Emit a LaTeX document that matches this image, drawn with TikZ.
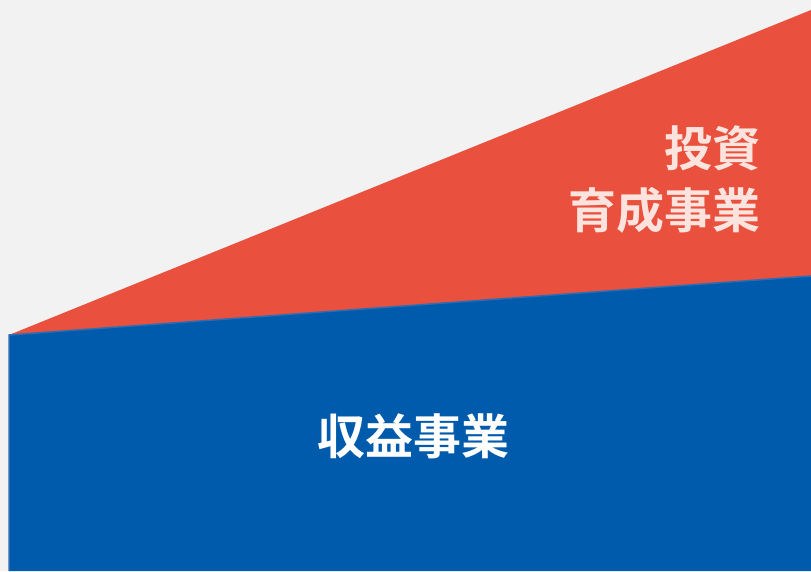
\documentclass[tikz,border=0pt]{standalone}
\usepackage{fontspec}
\newfontfamily\cjk{Noto Sans CJK JP Bold}
\definecolor{bg}{HTML}{F2F2F2}
\definecolor{redc}{HTML}{E9503D}
\definecolor{bluec}{HTML}{005BAC}
\definecolor{blueedge}{HTML}{2F6DB3}
\definecolor{pinktxt}{HTML}{FCE3DE}
\begin{document}
\begin{tikzpicture}[x=1pt,y=-1pt,
  lbl/.style={font=\cjk\fontsize{48}{62}\selectfont, inner sep=0pt}]
\fill[bg] (0,0) rectangle (811,571);
\useasboundingbox (0,0) rectangle (811,571);
\coordinate (apex) at (9,335);
\coordinate (rt) at (811,10);
\coordinate (rb) at (811,276);
\coordinate (bb) at (811,571);
\coordinate (lb) at (9,571);
\fill[redc] (apex) -- (rt) -- (rb) -- cycle;
\fill[bluec] (apex) -- (rb) -- (bb) -- (lb) -- cycle;
\draw[blueedge, line width=1.5pt] (lb) -- (apex) -- (rb);
\node[lbl, text=pinktxt, align=right, anchor=east] (inv) at (761,180) {投資\\育成事業};
\node[lbl, text=white] (rev) at (413,436) {収益事業};
\end{tikzpicture}
\end{document}
